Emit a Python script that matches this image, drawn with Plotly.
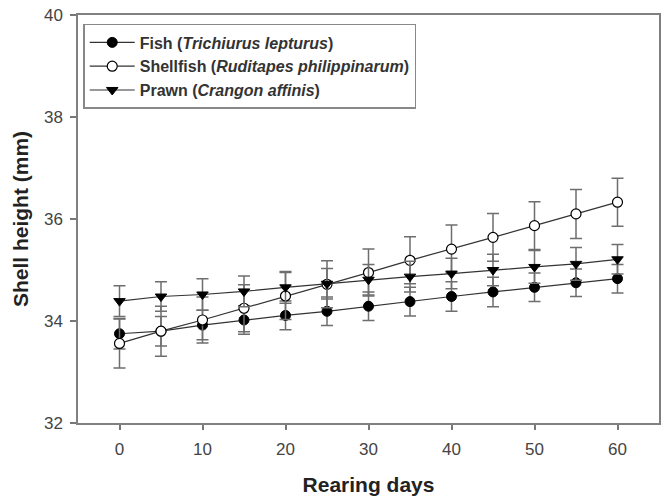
import plotly.graph_objects as go

days = [0, 5, 10, 15, 20, 25, 30, 35, 40, 45, 50, 55, 60]

fish = [33.75, 33.80, 33.92, 34.02, 34.11, 34.19, 34.29, 34.38, 34.48, 34.57, 34.66, 34.75, 34.83]
fish_err = [0.30, 0.29, 0.29, 0.28, 0.28, 0.28, 0.28, 0.28, 0.29, 0.29, 0.28, 0.27, 0.28]

shellfish = [33.56, 33.80, 34.02, 34.25, 34.49, 34.72, 34.95, 35.19, 35.41, 35.64, 35.87, 36.10, 36.33]
shellfish_err = [0.48, 0.49, 0.45, 0.46, 0.46, 0.46, 0.46, 0.46, 0.47, 0.47, 0.47, 0.48, 0.47]

prawn = [34.39, 34.48, 34.52, 34.58, 34.66, 34.73, 34.81, 34.87, 34.93, 35.00, 35.06, 35.12, 35.21]
prawn_err = [0.30, 0.29, 0.31, 0.30, 0.31, 0.30, 0.30, 0.30, 0.30, 0.31, 0.32, 0.32, 0.29]

names = [
    "<b>Fish (<i>Trichiurus lepturus</i>)</b>",
    "<b>Shellfish (<i>Ruditapes philippinarum</i>)</b>",
    "<b>Prawn (<i>Crangon affinis</i>)</b>",
]

FONT = "Liberation Sans, Arial, sans-serif"
ERR_COLOR = "#6e6e6e"
LINE_COLOR = "#333333"

fig = go.Figure()

series = [
    (fish, fish_err, dict(symbol="circle", color="black", size=10, line=dict(color="black", width=1))),
    (shellfish, shellfish_err, dict(symbol="circle", color="white", size=10, line=dict(color="black", width=1.2))),
    (prawn, prawn_err, dict(symbol="triangle-down", color="black", size=10, line=dict(color="black", width=1))),
]

for (vals, errs, mk), nm in zip(series, names):
    fig.add_trace(go.Scatter(
        x=days, y=vals, name=nm, mode="lines+markers",
        line=dict(color=LINE_COLOR, width=1.2),
        marker=mk,
        error_y=dict(type="data", array=errs, visible=True,
                     color=ERR_COLOR, thickness=1.5, width=6),
    ))

fig.update_layout(
    width=665, height=496,
    margin=dict(l=78, r=6, t=15, b=73),
    paper_bgcolor="white", plot_bgcolor="white",
    font=dict(family=FONT, color="#444444", size=17),
    showlegend=True,
    legend=dict(
        x=0.009, y=0.978, xanchor="left", yanchor="top",
        bgcolor="white", bordercolor="#888888", borderwidth=1.5,
        font=dict(family=FONT, size=16, color="#333333"),
        tracegroupgap=0, itemwidth=45,
    ),
    xaxis=dict(
        range=[-5, 65], tickmode="array", tickvals=[0, 10, 20, 30, 40, 50, 60],
        ticks="outside", ticklen=5, tickwidth=1.5, tickcolor="#777777",
        ticklabelstandoff=5,
        showline=True, linecolor="#808080", linewidth=1.5, mirror=True,
        showgrid=False, zeroline=False, automargin=False,
        tickfont=dict(size=17, color="#444444"),
        title=dict(text="<b>Rearing days</b>", font=dict(size=21, color="#222222"), standoff=27),
    ),
    yaxis=dict(
        range=[32, 40], tickmode="array", tickvals=[32, 34, 36, 38, 40],
        ticks="outside", ticklen=6, tickwidth=1.5, tickcolor="#777777",
        ticklabelstandoff=4,
        showline=True, linecolor="#808080", linewidth=1.5, mirror=True,
        showgrid=False, zeroline=False, automargin=False,
        tickfont=dict(size=17, color="#444444"),
        title=dict(text="<b>Shell height (mm)</b>", font=dict(size=21, color="#222222"), standoff=10),
    ),
)

fig.write_html("out.html")
